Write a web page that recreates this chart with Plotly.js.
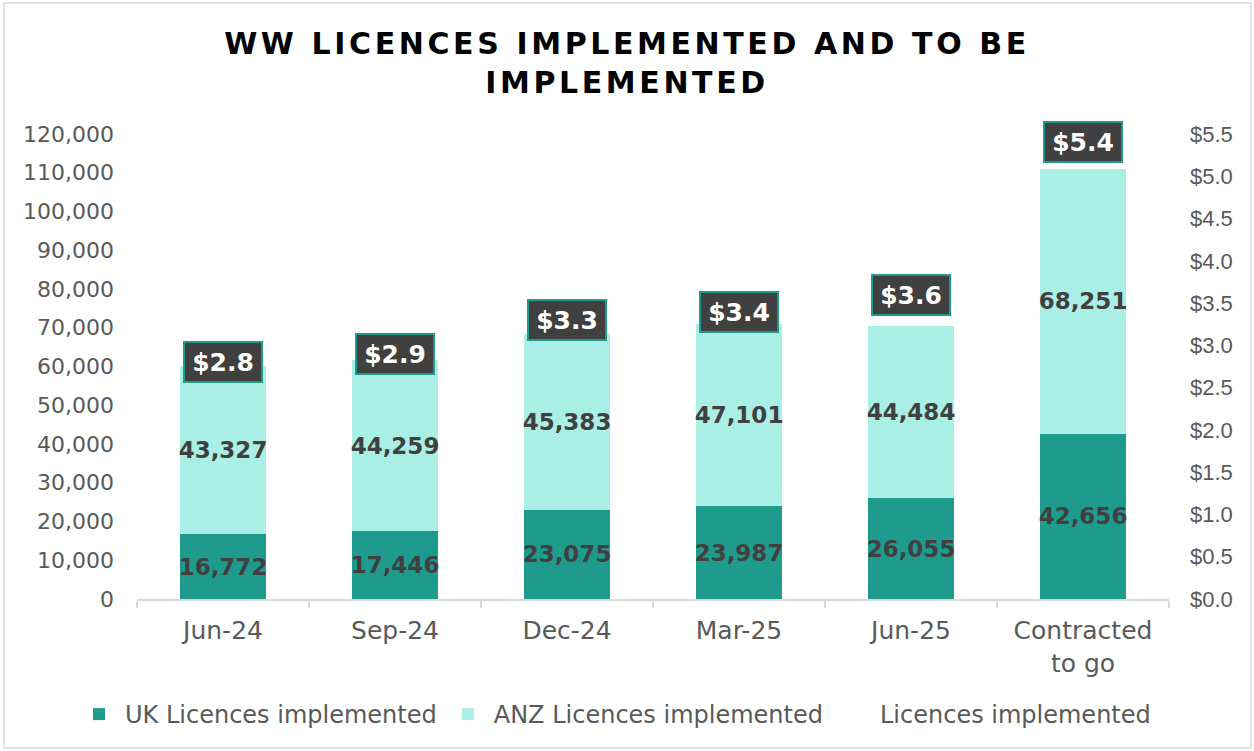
<!DOCTYPE html>
<html>
<head>
<meta charset="utf-8">
<script src="https://cdn.plot.ly/plotly-3.0.1.min.js"></script>
<style>
  html, body { margin: 0; padding: 0; background: #ffffff; }
  #chart { width: 1254px; height: 751px; }
  .gtitle { letter-spacing: 3.6px; }
</style>
</head>
<body>
<div id="chart"></div>
<script>
// ---- data ----
const categories = ["Jun-24", "Sep-24", "Dec-24", "Mar-25", "Jun-25", "Contracted<br>to go"];
const ukLicences = [16772, 17446, 23075, 23987, 26055, 42656];
const anzLicences = [43327, 44259, 45383, 47101, 44484, 68251];
const dollarValues = [2.8, 2.9, 3.3, 3.4, 3.6, 5.4];
const seriesNames = ["UK Licences implemented", "ANZ Licences implemented", "Licences implemented"];

// ---- styles ----
const UK_COLOR = "#1f9b8e";
const ANZ_COLOR = "#aaefe6";
const LABEL_DARK = "#404040";
const AXIS_GREY = "#595959";
const FONT_MAIN = "DejaVu Sans";

const barText = {family: FONT_MAIN, size: 23, color: LABEL_DARK, weight: "bold"};

const traces = [
  {
    type: "bar", name: seriesNames[0], x: categories, y: ukLicences,
    marker: {color: UK_COLOR},
    texttemplate: "%{y:,}", textposition: "inside", insidetextanchor: "middle",
    textangle: 0, constraintext: "none", textfont: barText, hoverinfo: "skip"
  },
  {
    type: "bar", name: seriesNames[1], x: categories, y: anzLicences,
    marker: {color: ANZ_COLOR},
    texttemplate: "%{y:,}", textposition: "inside", insidetextanchor: "middle",
    textangle: 0, constraintext: "none", textfont: barText, hoverinfo: "skip"
  },
  {
    type: "scatter", mode: "markers", name: seriesNames[2], x: categories, y: dollarValues,
    yaxis: "y2", marker: {color: "rgba(0,0,0,0)", size: 1}, hoverinfo: "skip"
  }
];

const annotations = categories.map((c, i) => ({
  x: c, y: dollarValues[i], xref: "x", yref: "y2",
  text: "<b>$" + dollarValues[i].toFixed(1) + "</b>",
  showarrow: false,
  width: 70, height: 32,
  bgcolor: LABEL_DARK, bordercolor: UK_COLOR, borderwidth: 2, borderpad: 3,
  font: {family: FONT_MAIN, size: 25, color: "#ffffff"},
  xanchor: "center", yanchor: "middle", align: "center", valign: "middle"
}));

const L = 137, R = 85, T = 134, B = 152;
const W = 1254, H = 751;
const pw = W - L - R, ph = H - T - B;

const layout = {
  width: W, height: H,
  margin: {l: L, r: R, t: T, b: B, autoexpand: false},
  paper_bgcolor: "#ffffff", plot_bgcolor: "#ffffff",
  barmode: "stack", bargap: 0.5,
  separators: ".,",
  title: {
    text: "<b>WW LICENCES IMPLEMENTED AND TO BE<br>IMPLEMENTED</b>",
    font: {family: FONT_MAIN, size: 30, color: "#000000"},
    x: 0.5, xref: "container", y: 0.928, yref: "container", yanchor: "top"
  },
  xaxis: {
    type: "category",
    showline: true, linecolor: "#d9d9d9", linewidth: 2,
    ticks: "outside", tickson: "boundaries", ticklen: 7, tickwidth: 2, tickcolor: "#d9d9d9",
    ticklabelstandoff: 8,
    tickfont: {family: FONT_MAIN, size: 25, color: AXIS_GREY},
    showgrid: false, zeroline: false
  },
  yaxis: {
    range: [0, 120000], dtick: 10000, tickformat: ",d",
    showgrid: false, zeroline: false, showline: false, ticks: "",
    ticklabelstandoff: 22,
    tickfont: {family: FONT_MAIN, size: 22, color: AXIS_GREY}
  },
  yaxis2: {
    overlaying: "y", side: "right",
    range: [0, 5.5], dtick: 0.5, tickformat: ".1f", tickprefix: "$",
    showgrid: false, zeroline: false, showline: false, ticks: "",
    ticklabelstandoff: 20,
    tickfont: {family: "Liberation Sans", size: 22, color: AXIS_GREY}
  },
  legend: {
    orientation: "h",
    x: -0.062, xanchor: "left", y: -0.2, yanchor: "top",
    font: {family: FONT_MAIN, size: 24, color: AXIS_GREY},
    traceorder: "normal", itemwidth: 42
  },
  annotations: annotations,
  shapes: [{
    type: "rect", xref: "paper", yref: "paper", layer: "below",
    x0: (4 - L) / pw, x1: (1251 - L) / pw,
    y0: (H - B - 748) / ph, y1: (H - B - 3) / ph,
    line: {color: "#d9d9d9", width: 1.5}, fillcolor: "rgba(0,0,0,0)"
  }],
  showlegend: true
};

Plotly.newPlot("chart", traces, layout, {displayModeBar: false, staticPlot: true});
</script>
</body>
</html>
